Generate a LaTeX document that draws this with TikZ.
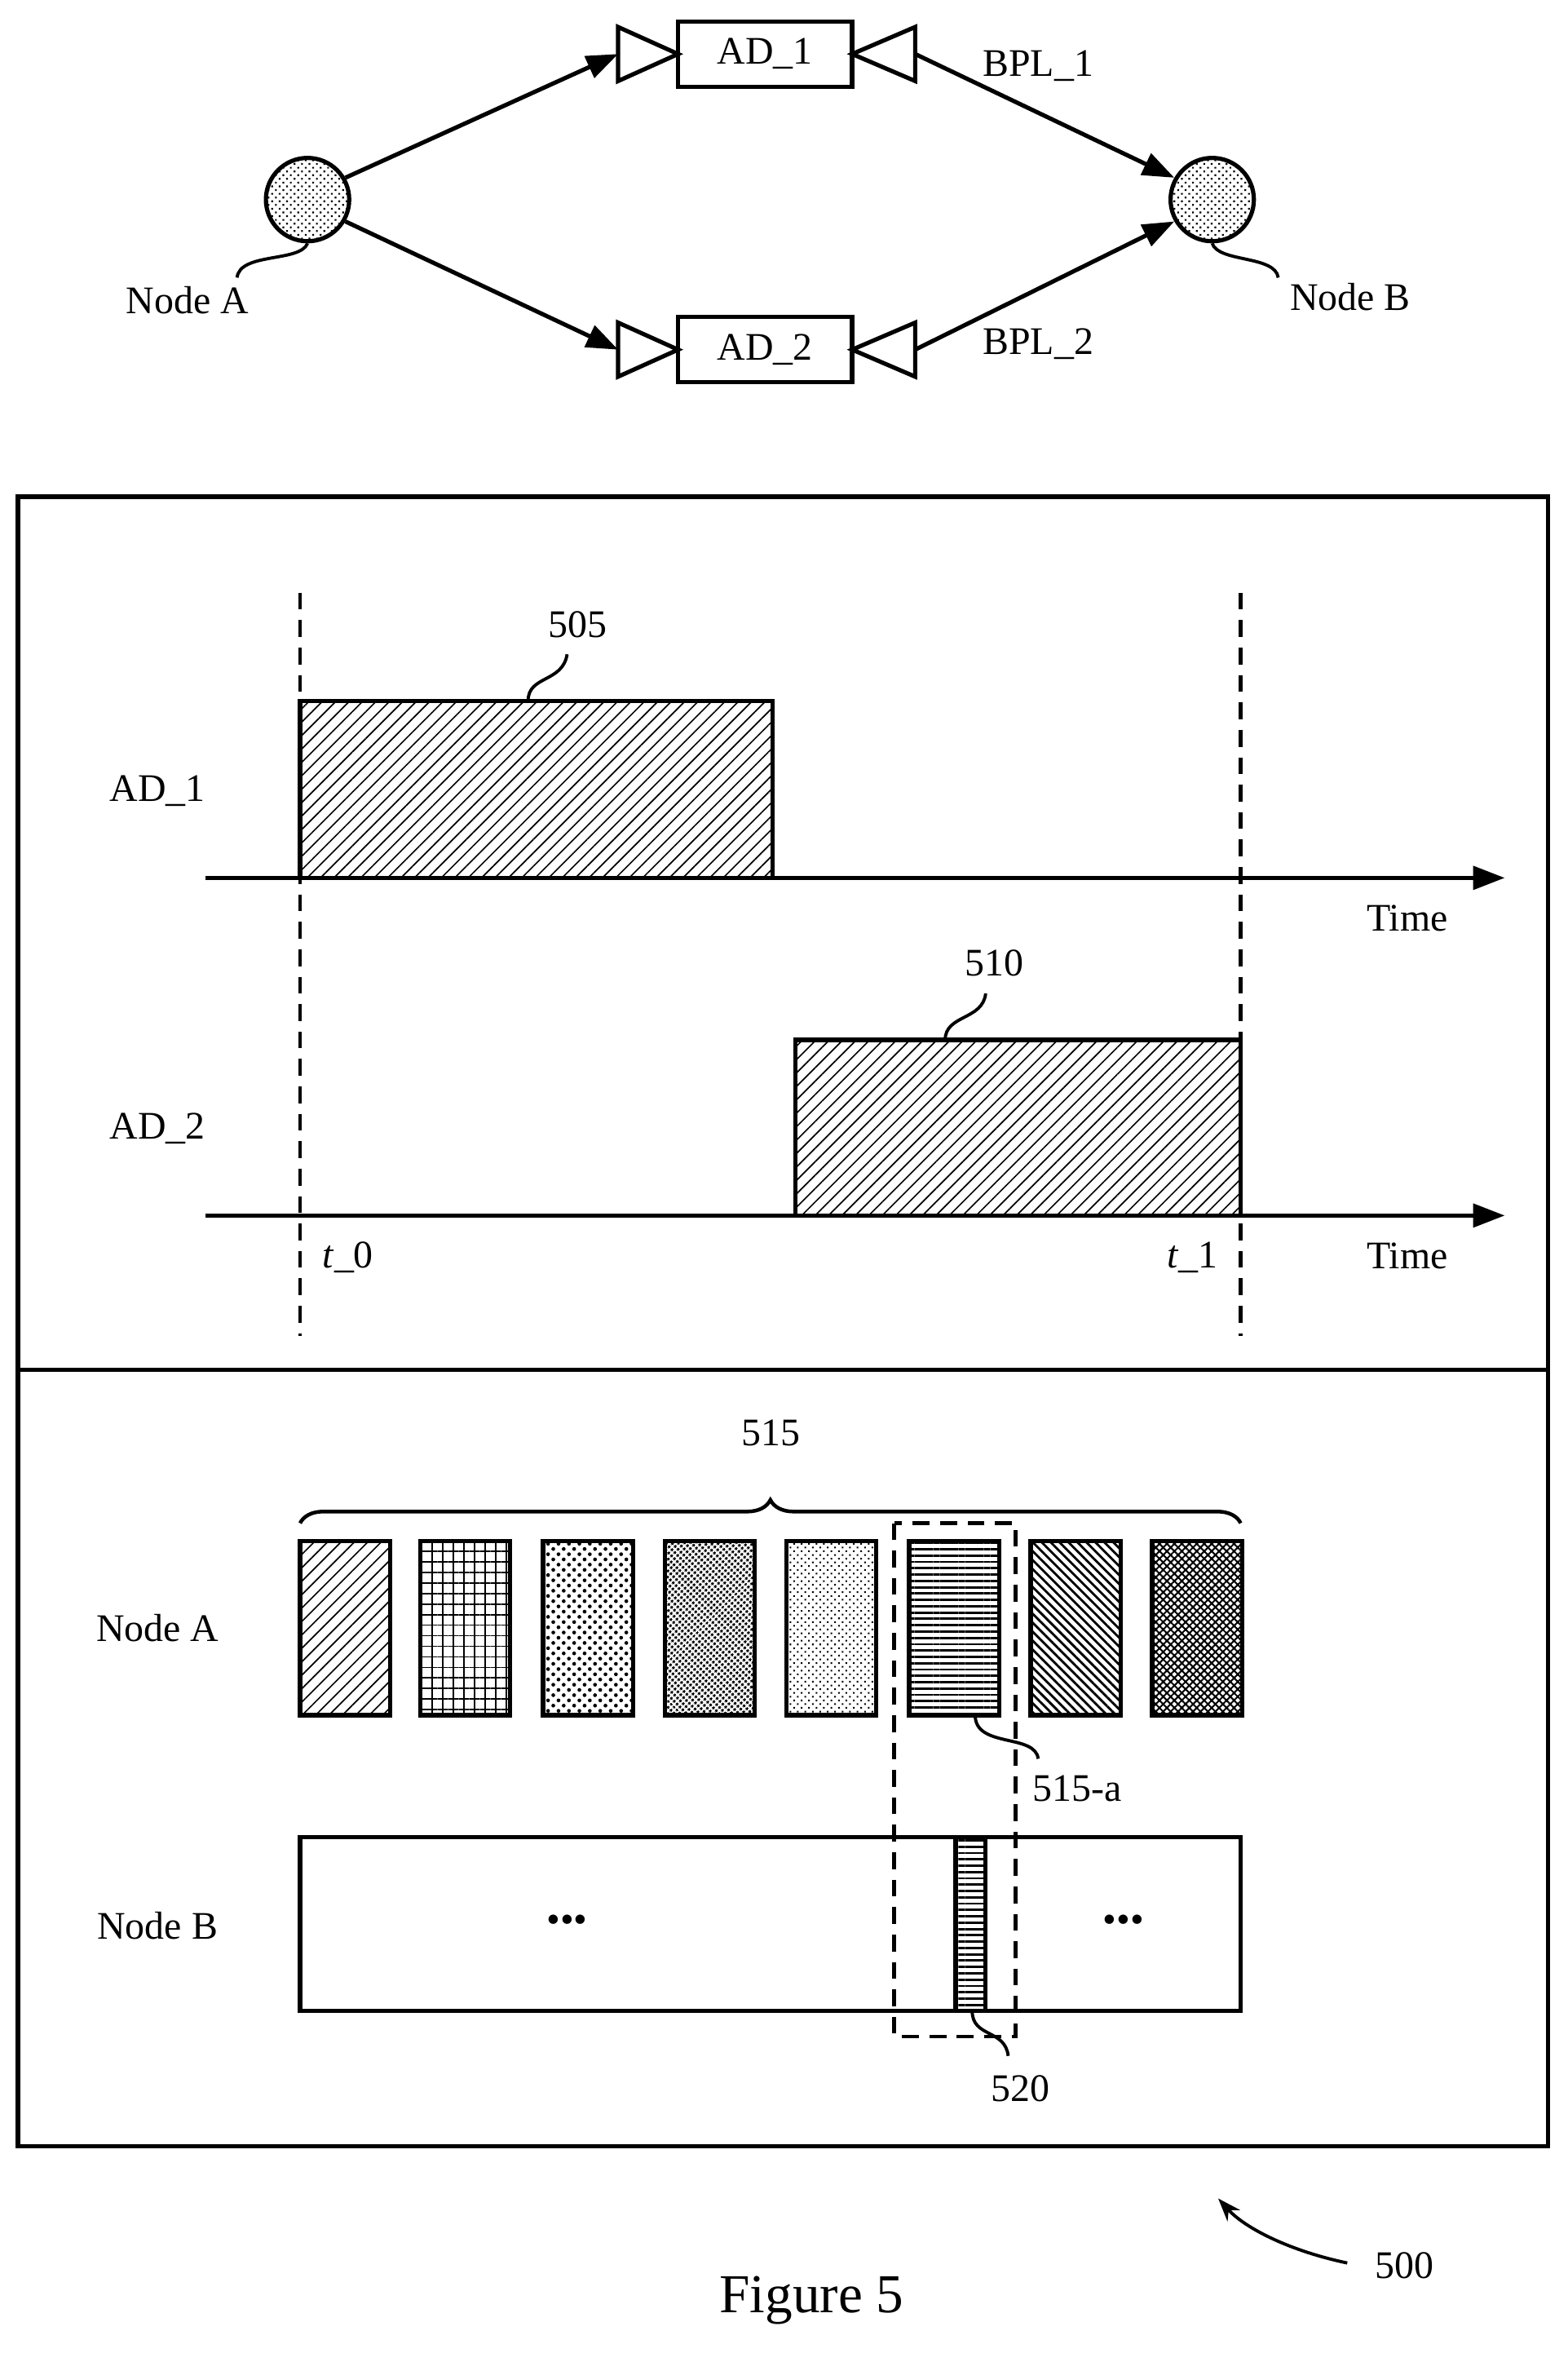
\documentclass[tikz,border=0pt]{standalone}
\usepackage{fontspec}
\setmainfont{Liberation Serif}
\usetikzlibrary{patterns.meta,arrows.meta,decorations.pathreplacing}
\begin{document}
\begin{tikzpicture}[x=0.05cm,y=-0.05cm,line width=4pt,
 lbl/.style={font=\fontsize{37}{42}\selectfont},
 arr/.style={-{Triangle[length=30pt,width=22pt]}},
 sq/.style={line width=3pt},
 dsh/.style={dash pattern=on 16pt off 10pt,line width=3.5pt},
 box/.style={draw,line width=4pt},
 hatch/.style={pattern={Lines[angle=45,distance=9pt,line width=1.3pt]}},
 hlines/.style={pattern={Lines[angle=0,distance=6pt,line width=2.2pt]}}]
\useasboundingbox (0,0) rectangle (1045,1568);
% top graph
\node[circle,draw,minimum size=79pt,pattern={Dots[radius=1.2pt,distance=5pt,angle=45]}] (A) at (205,133) {};
\node[circle,draw,minimum size=79pt,pattern={Dots[radius=1.2pt,distance=5pt,angle=45]}] (B) at (808,133) {};
\node[box,minimum width=165pt,minimum height=62pt,lbl] (ad1) at (510,36) {AD\_1};
\node[box,minimum width=165pt,minimum height=62pt,lbl] (ad2) at (510,233) {AD\_2};
\foreach \y/\n in {36/a,233/b}{
 \draw (412,\y-18) -- (452,\y) -- (412,\y+18) -- cycle;
 \draw (610,\y-18) -- (568,\y) -- (610,\y+18) -- cycle;}
\coordinate (la) at (412,36); \coordinate (ra) at (610,36);
\coordinate (lb) at (412,233); \coordinate (rb) at (610,233);
\draw[arr] (A.30) -- (la);
\draw[arr] (A.-30) -- (lb);
\draw[arr] (ra) -- (B.150);
\draw[arr] (rb) -- (B.-150);
\node[lbl] (bpl1) at (692,44) {BPL\_1};
\node[lbl] (bpl2) at (692,229) {BPL\_2};
\node[lbl] (nA) at (125,200) {Node A};
\node[lbl] (nB) at (900,198) {Node B};
\draw[sq] (A.south) .. controls (200,175) and (160,168) .. (158,185);
\draw[sq] (B.south) .. controls (812,175) and (850,170) .. (852,185);
% panels
\draw (12,331) rectangle (1032,913);
\draw (12,913) rectangle (1032,1430);
\draw[dsh] (200,395) -- (200,890);
\draw[dsh] (827,395) -- (827,890);
\node[lbl] (ad1l) at (105,527) {AD\_1};
\node[lbl] (ad2l) at (105,752) {AD\_2};
\draw[hatch] (200,467) rectangle (515,585);
\draw[hatch] (530,693) rectangle (827,810);
\coordinate (ax1s) at (137,585); \coordinate (ax1e) at (1003,585);
\coordinate (ax2s) at (137,810); \coordinate (ax2e) at (1003,810);
\draw[arr] (ax1s) -- (ax1e);
\draw[arr] (ax2s) -- (ax2e);
\node[lbl] (time1) at (938,612) {Time};
\node[lbl] (time2) at (938,837) {Time};
\node[lbl] (t0) at (232,838) {\textit{t}\_0};
\node[lbl] (t1) at (795,838) {\textit{t}\_1};
\node[lbl] (n505) at (385,416) {505};
\node[lbl] (n510) at (663,642) {510};
\draw[sq] (352,467) .. controls (352,450) and (375,455) .. (378,436);
\draw[sq] (630,693) .. controls (630,676) and (655,680) .. (657,662);
% panel 2
\draw[line width=3.5pt,decorate,decoration={brace,amplitude=22pt}] (200,1015) -- (827,1015);
\node[lbl] (n515) at (514,955) {515};
\node[lbl] (nAl) at (105,1085) {Node A};
\node[lbl] (nBl) at (105,1283) {Node B};
\draw[hatch] (200,1027) rectangle ++(60,116);
\draw[pattern={Hatch[angle=0,distance=10pt,line width=1.3pt]}] (280,1027) rectangle ++(60,116);
\draw[pattern={Dots[radius=1.8pt,distance=7pt,angle=45]}] (362,1027) rectangle ++(60,116);
\draw[pattern={Dots[radius=1.5pt,distance=4pt,angle=45]}] (443,1027) rectangle ++(60,116);
\draw[pattern={Dots[radius=1.1pt,distance=5pt,angle=45]}] (524,1027) rectangle ++(60,116);
\draw[hlines] (606,1027) rectangle ++(60,116);
\draw[pattern={Lines[angle=-45,distance=6pt,line width=2.2pt]}] (687,1027) rectangle ++(60,116);
\draw[pattern={Hatch[angle=45,distance=5pt,line width=1.6pt]}] (768,1027) rectangle ++(60,116);
\draw (200,1224) rectangle (827,1340);
\draw[hlines] (637,1224) rectangle (657,1340);
\node[lbl] (d1) at (378,1282) {\textbullet\textbullet\textbullet};
\node[lbl] (d2) at (749,1282) {\textbullet\textbullet\textbullet};
\draw[dsh] (596,1015) rectangle (677,1357);
\node[lbl] (n515a) at (718,1192) {515-a};
\node[lbl] (n520) at (680,1392) {520};
\draw[sq] (650,1143) .. controls (650,1165) and (690,1155) .. (692,1172);
\draw[sq] (648,1340) .. controls (648,1358) and (670,1352) .. (672,1370);
\node[lbl] (n500) at (936,1510) {500};
\coordinate (c500) at (898,1508);
\draw[sq,-{Stealth[length=22pt,width=16pt]}] (c500) .. controls (860,1500) and (830,1485) .. (812,1465);
\node[font=\fontsize{52}{58}\selectfont] (fig) at (541,1533) {Figure 5};
\end{tikzpicture}
\end{document}
